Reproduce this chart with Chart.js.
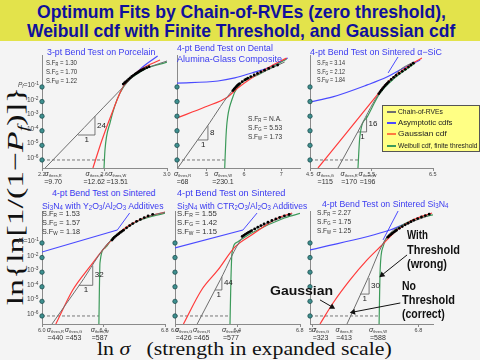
<!DOCTYPE html>
<html lang="en">
<head>
<meta charset="UTF-8">
<meta name="viewport" content="width=device-width, initial-scale=1.0">
<title>Optimum Fits by Chain-of-RVEs</title>
<script src="https://cdn.jsdelivr.net/npm/chart.js"></script>
<style>
  html, body { margin: 0; padding: 0; }
  body { position: relative; width: 480px; height: 360px; overflow: hidden; background: #f4f4f4;
         font-family: Arial, "Liberation Sans", sans-serif; }
  #banner { position: absolute; left: 0; top: 0; width: 480px; height: 41px; background: #e3e34b; }
  canvas { position: absolute; z-index: 1; }
  .t { position: absolute; white-space: nowrap; line-height: 1; transform-origin: 0 0; z-index: 2; }
  .head { font-size: 19px; font-weight: bold; color: #10109c; }
  .pt { font-size: 9px; color: #3a3af0; }
  .pt sub { font-size: 0.7em; vertical-align: -0.2em; line-height: 0; }
  .sf { font-size: 8px; color: #333; }
  .sf sub { font-size: 0.65em; vertical-align: -0.2em; line-height: 0; }
  .note { font-size: 12px; font-weight: bold; color: #111; }
  .tk { font-size: 5.5px; color: #444; }
  .tk sup { font-size: 0.75em; vertical-align: 0.35em; line-height: 0; }
  .tk sub { font-size: 0.75em; vertical-align: -0.2em; line-height: 0; }
  .sig { font-size: 7px; color: #333; text-align: center; line-height: 7.5px; }
  .sig sub { font-size: 4px; vertical-align: -1px; line-height: 0; }
  .sl { font-size: 8px; color: #222; }
  .serif { font-family: "Liberation Serif", "Times New Roman", serif; color: #111; }
  #legend { position: absolute; left: 382px; top: 105px; width: 98px; height: 47px; box-sizing: border-box;
            background: #ffff84; border: 1px solid #555; z-index: 3; }
  #legend .sw { position: absolute; left: 4px; width: 9px; height: 1.5px; }
  #legend .lt { position: absolute; left: 15px; font-size: 7.5px; line-height: 1; white-space: nowrap;
                transform-origin: 0 0; color: #222; }
</style>
</head>
<body>
<div id="banner"></div>
<div class="t head" style="left:37px;top:2px" data-w="409">Optimum Fits by Chain-of-RVEs (zero threshold),</div>
<div class="t head" style="left:27px;top:21px" data-w="428">Weibull cdf with Finite Threshold, and Gaussian cdf</div>

<div class="t pt" style="left:47px;top:47.5px" data-w="108">3-pt Bend Test on Porcelain</div>
<div class="t pt" style="left:177px;top:43.5px" data-w="96">4-pt Bend Test on Dental</div>
<div class="t pt" style="left:177px;top:54.5px" data-w="105">Alumina-Glass Composite</div>
<div class="t pt" style="left:310px;top:47.5px" data-w="132">4-pt Bend Test on Sintered α−SiC</div>
<div class="t pt" style="left:52px;top:188.5px" data-w="103">4-pt Bend Test on Sintered</div>
<div class="t pt" style="left:42px;top:201.5px" data-w="122">Si<sub>3</sub>N<sub>4</sub> with Y<sub>2</sub>O<sub>3</sub>/Al<sub>2</sub>O<sub>3</sub> Additives</div>
<div class="t pt" style="left:177px;top:188.5px" data-w="108">4-pt Bend Test on Sintered</div>
<div class="t pt" style="left:177px;top:201.5px" data-w="130">Si<sub>3</sub>N<sub>4</sub> with CTR<sub>2</sub>O<sub>3</sub>/Al<sub>2</sub>O<sub>3</sub> Additives</div>
<div class="t pt" style="left:322px;top:199.5px" data-w="126">4-pt Bend Test on Sintered Si<sub>3</sub>N<sub>4</sub></div>

<div id="legend">
  <div class="sw" style="top:5px;background:#6e6e6e"></div><div class="lt" style="top:2px" data-w="45">Chain-of-RVEs</div>
  <div class="sw" style="top:16px;background:#4a4aff"></div><div class="lt" style="top:13px" data-w="55">Asymptotic cdfs</div>
  <div class="sw" style="top:27px;background:#ff7a40"></div><div class="lt" style="top:24px" data-w="49">Gaussian cdf</div>
  <div class="sw" style="top:39px;background:#3c9a5a"></div><div class="lt" style="top:36px" data-w="80">Weibull cdf, finite threshold</div>
</div>

<div class="t note" style="left:407px;top:229px" data-w="21">With</div>
<div class="t note" style="left:407px;top:244px" data-w="53">Threshold</div>
<div class="t note" style="left:407px;top:258px" data-w="40">(wrong)</div>
<div class="t note" style="left:402px;top:280px" data-w="14">No</div>
<div class="t note" style="left:402px;top:294px" data-w="53">Threshold</div>
<div class="t note" style="left:402px;top:308px" data-w="43">(correct)</div>
<div class="t note" style="left:270px;top:285px" data-w="63">Gaussian</div>

<div id="xlab" class="t serif" style="left:97px;top:339px;font-size:19px;white-space:pre" data-w="295">ln <i>σ</i>   (strength in expanded scale)</div>
<div id="ylab" class="serif" style="position:absolute;font-size:24px;white-space:nowrap;line-height:1;z-index:2">ln{ln[1/(1−<i>P<sub style="font-size:0.6em">f</sub></i>)]}</div>

<script>
// y axis: one unit per decade of failure probability (10^-1 ... 10^-6)
const yDecades = [-1, -2, -3, -4, -5, -6];
const yRange = [-6.55, 1.19];

// 3-pt bend, porcelain
const p1X = [2.2, 3.0];
const p1Ticks = ['2.2', '2.6', '3.0'];
const p1Chain = [[2.22, -6.55], [2.47, -3.78], [2.72, -1.0], [2.81, -0.04], [2.89, 0.37], [3.0, 0.78]];
const p1Gauss = [[2.526, -6.55], [2.584, -4.63], [2.648, -2.78], [2.718, -1.0], [2.827, 0.16], [2.955, 0.85]];
const p1Weib = [[2.597, -6.55], [2.603, -5.32], [2.635, -3.47], [2.699, -1.41], [2.827, 0.03], [3.0, 0.71]];
const p1Asym = [[2.81, 0.03], [2.86, 0.51], [2.94, 1.12]];
const p1Data = [[2.72, -0.8], [2.728, -0.72], [2.735, -0.66], [2.745, -0.56], [2.755, -0.46], [2.765, -0.37], [2.775, -0.28],
  [2.785, -0.2], [2.795, -0.12], [2.803, -0.07], [2.81, -0.02], [2.818, 0.03], [2.825, 0.08], [2.833, 0.13], [2.84, 0.17],
  [2.848, 0.21], [2.855, 0.25], [2.87, 0.32], [2.885, 0.39]];
const p1Dash = [[2.2, -6], [2.597, -6]];
const p1Tri = [[2.43, -4.29], [2.539, -4.29], [2.539, -3.0]];
const p1Slope = '24';
const p1Thres = [['thres,R', '9.70'], ['thres,G', '12.62'], ['thres,W', '13.51']];
const p1SF = ['1.30', '1.70', '1.22'];

// 4-pt bend, dental alumina-glass composite
const p2X = [4.2, 7.5];
const p2Ticks = ['5', '6', '7'];
const p2Chain = [[4.22, -6.55], [4.98, -3.81], [5.75, -1.07], [6.205, -0.32], [6.63, 0.16], [7.09, 0.71]];
const p2Gauss = [[4.2, -3.12], [4.95, -2.37], [5.56, -1.68], [5.83, -1.07], [6.63, 0.3], [7.14, 0.99]];
const p2Weib = [[5.48, -6.55], [5.51, -4.63], [5.54, -3.47], [5.67, -1.89], [5.83, -1.0], [6.42, -0.11], [7.14, 0.92]];
const p2Asym = [[4.2, -0.73], [5.3, -0.59], [5.75, -0.38], [6.205, -0.04], [6.63, 0.3], [7.17, 0.99]];
const p2Data = [[5.70, -1.25], [5.73, -1.15], [5.76, -1.06], [5.79, -0.98], [5.82, -0.9], [5.85, -0.83], [5.88, -0.77],
  [5.95, -0.64], [6.02, -0.52], [6.06, -0.46], [6.1, -0.4], [6.18, -0.29], [6.27, -0.18], [6.36, -0.07], [6.45, 0.04],
  [6.55, 0.15], [6.66, 0.27], [6.78, 0.39], [6.9, 0.5]];
const p2Dash = [[4.2, -6], [5.48, -6]];
const p2Tri = [[4.76, -4.63], [5.03, -4.63], [5.03, -3.65]];
const p2Slope = '8';
const p2Thres = [['thres,R', '68'], ['thres,W', '230.1']];
const p2SF = ['N.A.', '5.53', '1.73'];

// 4-pt bend, sintered alpha-SiC
const p3X = [4.5, 6.5];
const p3Ticks = ['4.5', '5.5', '6.5'];
const p3Chain = [[4.955, -6.55], [5.28, -4.05], [5.606, -1.55], [5.80, -0.6], [5.96, 0.16], [6.18, 0.71]];
const p3Gauss = [[4.63, -6.55], [5.12, -4.0], [5.59, -1.55], [5.75, -0.73], [6.08, 0.37], [6.32, 0.99]];
const p3Weib = [[5.28, -6.55], [5.31, -4.42], [5.43, -3.05], [5.64, -1.41], [5.88, -0.38], [6.21, 0.64]];
const p3Asym = [[4.5, -2.03], [4.87, -1.68], [5.43, -0.86], [5.75, -0.32], [5.96, 0.16], [6.29, 0.85]];
const p3Ptr = [[5.93, 1.05], [5.77, -0.04]];
const p3Data = [[5.62, -1.45], [5.64, -1.33], [5.66, -1.22], [5.68, -1.11], [5.7, -1.01], [5.72, -0.91], [5.74, -0.82],
  [5.76, -0.73], [5.78, -0.64], [5.82, -0.48], [5.86, -0.34], [5.9, -0.21], [5.95, -0.07], [6.0, 0.07], [6.05, 0.21],
  [6.1, 0.36], [6.14, 0.5], [6.18, 0.63]];
const p3Dash = [[4.5, -6], [5.28, -6]];
const p3Tri = [[5.28, -4.08], [5.42, -4.08], [5.42, -3.0]];
const p3Slope = '16';
const p3Thres = [['thres,G', '115'], ['thres,R', '170'], ['thres,W', '196']];
const p3SF = ['3.14', '2.12', '1.84'];

// 4-pt bend, Si3N4 with Y2O3/Al2O3
const p4X = [6.0, 6.8];
const p4Ticks = ['6.0', '6.4', '6.8'];
const p4Chain = [[6.065, -6.55], [6.25, -3.78], [6.43, -1.0], [6.51, -0.3], [6.6, 0.35], [6.7, 0.85], [6.8, 1.1]];
const p4Gauss = [[6.09, -6.55], [6.2, -4.22], [6.31, -2.64], [6.44, -0.93], [6.55, 0.1], [6.68, 0.78], [6.8, 1.12]];
const p4Weib = [[6.37, -6.55], [6.377, -2.37], [6.41, -1.34], [6.46, -0.66], [6.55, 0.05], [6.64, 0.58], [6.8, 1.05]];
const p4Asym = [[6.0, -1.62], [6.49, -0.11]];
const p4Ptr = [[6.49, -0.11], [6.57, 1.05]];
const p4Data = [[6.455, -0.8], [6.462, -0.71], [6.47, -0.62], [6.48, -0.53], [6.49, -0.45], [6.5, -0.36], [6.51, -0.28],
  [6.52, -0.2], [6.53, -0.12], [6.55, 0.04], [6.57, 0.19], [6.59, 0.33], [6.615, 0.48], [6.64, 0.61], [6.665, 0.74],
  [6.69, 0.85], [6.72, 0.96]];
const p4Dash = [[6.0, -6], [6.37, -6]];
const p4Tri = [[6.24, -3.9], [6.33, -3.9], [6.33, -2.55]];
const p4Slope = '32';
const p4Thres = [['thres,R', '440'], ['thres,G', '453'], ['thres,W', '587']];
const p4SF = ['1.53', '1.57', '1.18'];

// 4-pt bend, Si3N4 with CTR2O3/Al2O3
const p5X = [6.0, 6.8];
const p5Ticks = ['6.0', '6.4', '6.8'];
const p5Chain = [[6.142, -6.55], [6.29, -3.52], [6.43, -0.66], [6.55, 0.15], [6.7, 0.8], [6.75, 0.99]];
const p5Gauss = [[6.054, -6.55], [6.17, -4.22], [6.275, -2.85], [6.384, -1.27], [6.49, -0.45], [6.66, 0.71], [6.75, 1.05]];
const p5Weib = [[6.352, -6.55], [6.358, -3.5], [6.365, -1.68], [6.40, -0.93], [6.49, -0.32], [6.70, 0.71], [6.81, 1.05]];
const p5Asym = [[6.0, -1.34], [6.435, -0.11]];
const p5Ptr = [[6.435, -0.11], [6.525, 1.05]];
const p5Data = [[6.43, -0.55], [6.44, -0.48], [6.45, -0.41], [6.46, -0.34], [6.47, -0.28], [6.48, -0.22], [6.49, -0.16],
  [6.51, -0.04], [6.53, 0.08], [6.55, 0.19], [6.57, 0.3], [6.595, 0.42], [6.62, 0.54], [6.645, 0.65], [6.67, 0.76],
  [6.7, 0.86], [6.73, 0.95]];
const p5Dash = [[6.0, -6], [6.352, -6]];
const p5Tri = [[6.256, -4.22], [6.30, -4.22], [6.30, -3.32]];
const p5Slope = '44';
const p5Thres = [['thres,G', '426'], ['thres,R', '465'], ['thres,W', '577']];
const p5SF = ['1.55', '1.42', '1.15'];

// 4-pt bend, sintered Si3N4
const p6X = [5.67, 6.95];
const p6Ticks = ['5.7', '6.8'];
const p6Chain = [[6.055, -6.55], [6.26, -3.6], [6.47, -0.59], [6.71, 0.37], [6.9, 0.86]];
const p6Gauss = [[5.774, -6.55], [5.91, -5.11], [6.087, -3.53], [6.264, -2.16], [6.42, -1.14], [6.576, -0.11], [6.743, 0.58], [6.94, 1.05]];
const p6Weib = [[6.389, -6.55], [6.40, -2.85], [6.43, -1.27], [6.535, -0.25], [6.743, 0.58], [6.95, 0.92]];
const p6Asym = [[5.67, -1.48], [6.503, -0.11], [6.71, 0.45]];
const p6Ptr = [[6.587, 1.19], [6.43, -0.79]];
const p6Data = [[6.48, -0.6], [6.495, -0.51], [6.51, -0.43], [6.525, -0.35], [6.54, -0.27], [6.555, -0.2], [6.57, -0.13],
  [6.6, 0.0], [6.63, 0.12], [6.66, 0.24], [6.69, 0.35], [6.72, 0.46], [6.75, 0.56], [6.79, 0.67], [6.83, 0.78],
  [6.87, 0.88], [6.91, 0.97]];
const p6Dash = [[5.67, -6], [6.389, -6]];
const p6Tri = [[6.19, -4.5], [6.285, -4.5], [6.285, -3.4]];
const p6Slope = '30';
const p6Thres = [['thres,G', '323'], ['thres,R', '413'], ['thres,W', '588']];
const p6SF = ['2.27', '1.75', '1.25'];
const p6Arrows = [
  [[6.68, -1.82], [6.42, -3.19]],
  [[6.61, -5.11], [6.12, -5.73]],
  [[5.774, -4.9], [5.90, -5.38]]
];

const colors = { chain: '#6e6e6e', gauss: '#ff3b3b', weib: '#3c9a5a', asym: '#4a4aff', axis: '#8a8a8a' };

const panels = [
  { box: [42, 55, 167, 168], sf: [46, 59.4, 9, 31], yText: true,
    x: p1X, ticks: p1Ticks, chain: p1Chain, gauss: p1Gauss, weib: p1Weib, asym: p1Asym, ptr: null, pts: p1Data,
    dash: p1Dash, tri: p1Tri, slope: p1Slope, thres: p1Thres, sfv: p1SF },
  { box: [177, 55, 300, 168], sf: [248, 115.4, 9, 34],
    x: p2X, ticks: p2Ticks, chain: p2Chain, gauss: p2Gauss, weib: p2Weib, asym: p2Asym, ptr: null, pts: p2Data,
    dash: p2Dash, tri: p2Tri, slope: p2Slope, thres: p2Thres, sfv: p2SF },
  { box: [310, 55, 433, 168], sf: [317, 59.4, 8.5, 28],
    x: p3X, ticks: p3Ticks, chain: p3Chain, gauss: p3Gauss, weib: p3Weib, asym: p3Asym, ptr: p3Ptr, pts: p3Data,
    dash: p3Dash, tri: p3Tri, slope: p3Slope, thres: p3Thres, sfv: p3SF },
  { box: [42, 211, 165, 324], sf: [42, 210.4, 9, 38], yText: true,
    x: p4X, ticks: p4Ticks, chain: p4Chain, gauss: p4Gauss, weib: p4Weib, asym: p4Asym, ptr: p4Ptr, pts: p4Data,
    dash: p4Dash, tri: p4Tri, slope: p4Slope, thres: p4Thres, sfv: p4SF },
  { box: [175, 211, 300, 324], sf: [177, 210.4, 9, 40],
    x: p5X, ticks: p5Ticks, chain: p5Chain, gauss: p5Gauss, weib: p5Weib, asym: p5Asym, ptr: p5Ptr, pts: p5Data,
    dash: p5Dash, tri: p5Tri, slope: p5Slope, thres: p5Thres, sfv: p5SF },
  { box: [310, 211, 433, 324], sf: [317, 209.4, 9, 34],
    x: p6X, ticks: p6Ticks, chain: p6Chain, gauss: p6Gauss, weib: p6Weib, asym: p6Asym, ptr: p6Ptr, pts: p6Data,
    dash: p6Dash, tri: p6Tri, slope: p6Slope, thres: p6Thres, sfv: p6SF, arrows: p6Arrows }
];

const xy = pts => pts.map(([x, y]) => ({ x, y }));

function curve(pts, color, width) {
  return { data: xy(pts), showLine: true, borderColor: color, borderWidth: width || 1.2, pointRadius: 0,
           cubicInterpolationMode: 'monotone', fill: false };
}
function segs(pts, color, width, dash) {
  return { data: xy(pts), showLine: true, borderColor: color, borderWidth: width || 0.8, pointRadius: 0,
           borderDash: dash || [], tension: 0, fill: false };
}
function arrow(pts) {
  return { data: xy(pts), showLine: true, borderColor: '#111', borderWidth: 1, tension: 0,
    pointStyle: 'triangle', pointRadius: [0, 3.5], pointBackgroundColor: '#111', pointBorderWidth: 0,
    pointRotation: c => {
      if (c.type !== 'data' || c.dataIndex === 0) return 0;
      const d = c.dataset.data, s = c.chart.scales;
      const dx = s.x.getPixelForValue(d[1].x) - s.x.getPixelForValue(d[0].x);
      const dy = s.y.getPixelForValue(d[1].y) - s.y.getPixelForValue(d[0].y);
      return Math.atan2(dx, -dy) * 180 / Math.PI;
    } };
}

function addText(cls, html, left, top) {
  const el = document.createElement('div');
  el.className = 't ' + cls;
  el.innerHTML = html;
  el.style.left = left + 'px';
  el.style.top = top + 'px';
  document.body.appendChild(el);
  return el;
}

const PAD = 6, TICK = 3;

panels.forEach(p => {
  const [L, T, R, B] = p.box;
  const cv = document.createElement('canvas');
  cv.width = R - L + 2 * PAD;
  cv.height = B - T + 2 * PAD + TICK;
  cv.style.left = (L - PAD) + 'px';
  cv.style.top = (T - PAD) + 'px';
  document.body.appendChild(cv);

  const ds = [];
  if (p.arrows) p.arrows.forEach(a => ds.push(arrow(a)));
  ds.push({ data: xy(p.pts), showLine: false, pointRadius: 1.4, pointBackgroundColor: '#000', pointBorderWidth: 0 });
  ds.push({ data: yDecades.map(y => ({ x: p.x[0], y })), showLine: false, clip: false, pointRadius: 2.2,
            pointBackgroundColor: '#3d8f8f', pointBorderColor: '#1f4f4f', pointBorderWidth: 0.8 });
  ds.push(curve(p.chain, colors.chain, 1));
  ds.push(curve(p.gauss, colors.gauss));
  ds.push(curve(p.weib, colors.weib));
  ds.push(curve(p.asym, colors.asym));
  if (p.ptr) ds.push(segs(p.ptr, colors.asym, 1));
  ds.push(segs(p.dash, '#555', 0.8, [3, 2]));
  ds.push(segs(p.tri, '#555', 0.8));

  const chart = new Chart(cv, {
    type: 'scatter',
    data: { datasets: ds },
    options: {
      responsive: false, animation: false, events: [],
      layout: { padding: PAD },
      plugins: { legend: { display: false }, tooltip: { enabled: false } },
      scales: {
        x: { type: 'linear', min: p.x[0], max: p.x[1],
             afterBuildTicks: s => { s.ticks = p.ticks.map(t => ({ value: +t })); },
             ticks: { display: false },
             grid: { display: true, drawOnChartArea: false, drawTicks: true, tickLength: TICK, color: colors.axis },
             border: { display: true, color: colors.axis, width: 1 } },
        y: { type: 'linear', min: yRange[0], max: yRange[1],
             ticks: { display: false },
             grid: { display: false, drawTicks: false },
             border: { display: true, color: colors.axis, width: 1 } }
      }
    }
  });

  const ox = L - PAD, oy = T - PAD;
  const px = v => ox + chart.scales.x.getPixelForValue(v);
  const py = v => oy + chart.scales.y.getPixelForValue(v);

  // x tick labels
  p.ticks.forEach(t => {
    const el = addText('tk', t, 0, B + 4);
    el.style.left = (px(+t) - el.offsetWidth / 2) + 'px';
  });

  // threshold strengths under the axis
  let right = L - 4;
  p.thres.forEach(([sub, val]) => {
    const el = addText('sig', '<i>σ</i><sub>' + sub + '</sub><br>=' + val, 0, B + 2);
    const w = el.offsetWidth;
    const left = Math.max(px(Math.log(+val)) - w / 2, right + 1);
    el.style.left = left + 'px';
    right = left + w;
  });

  // decade labels on the y axis
  if (p.yText) {
    yDecades.forEach((d, i) => {
      const html = (i === 0 ? '<i>P<sub>f</sub></i>=' : '') + '10<sup>' + d + '</sup>';
      const el = addText('tk', html, 0, 0);
      el.style.fontSize = '6.5px';
      el.style.left = (L - 3 - el.offsetWidth) + 'px';
      el.style.top = (py(d) - el.offsetHeight / 2 - 1.5) + 'px';
    });
  }

  // S.F lines
  const [sl, st, step, sw] = p.sf;
  ['R', 'G', 'W'].forEach((k, i) => {
    const el = addText('sf', 'S.F<sub>' + k + '</sub> = ' + p.sfv[i], sl, st + i * step);
    el.dataset.w = sw;
  });

  // slope triangle labels
  const [a, b, c] = p.tri;
  const s1 = addText('sl', p.slope, px(b[0]) + 2, 0);
  s1.style.top = (py((b[1] + c[1]) / 2) - s1.offsetHeight / 2) + 'px';
  const s2 = addText('sl', '1', 0, py(a[1]) + 1);
  s2.style.left = (px((a[0] + b[0]) / 2) - s2.offsetWidth / 2) + 'px';
});

// squeeze text to the widths seen in the slide
document.querySelectorAll('[data-w]').forEach(el => {
  el.style.transform = 'scaleX(' + (el.dataset.w / el.offsetWidth) + ')';
});

// rotated y axis title
const yl = document.getElementById('ylab');
const ylW = yl.offsetWidth, ylH = yl.offsetHeight;
yl.style.left = (16 - ylW / 2) + 'px';
yl.style.top = (196 - ylH / 2) + 'px';
yl.style.transform = 'rotate(-90deg) scaleX(' + (218 / ylW) + ')';
</script>
</body>
</html>
